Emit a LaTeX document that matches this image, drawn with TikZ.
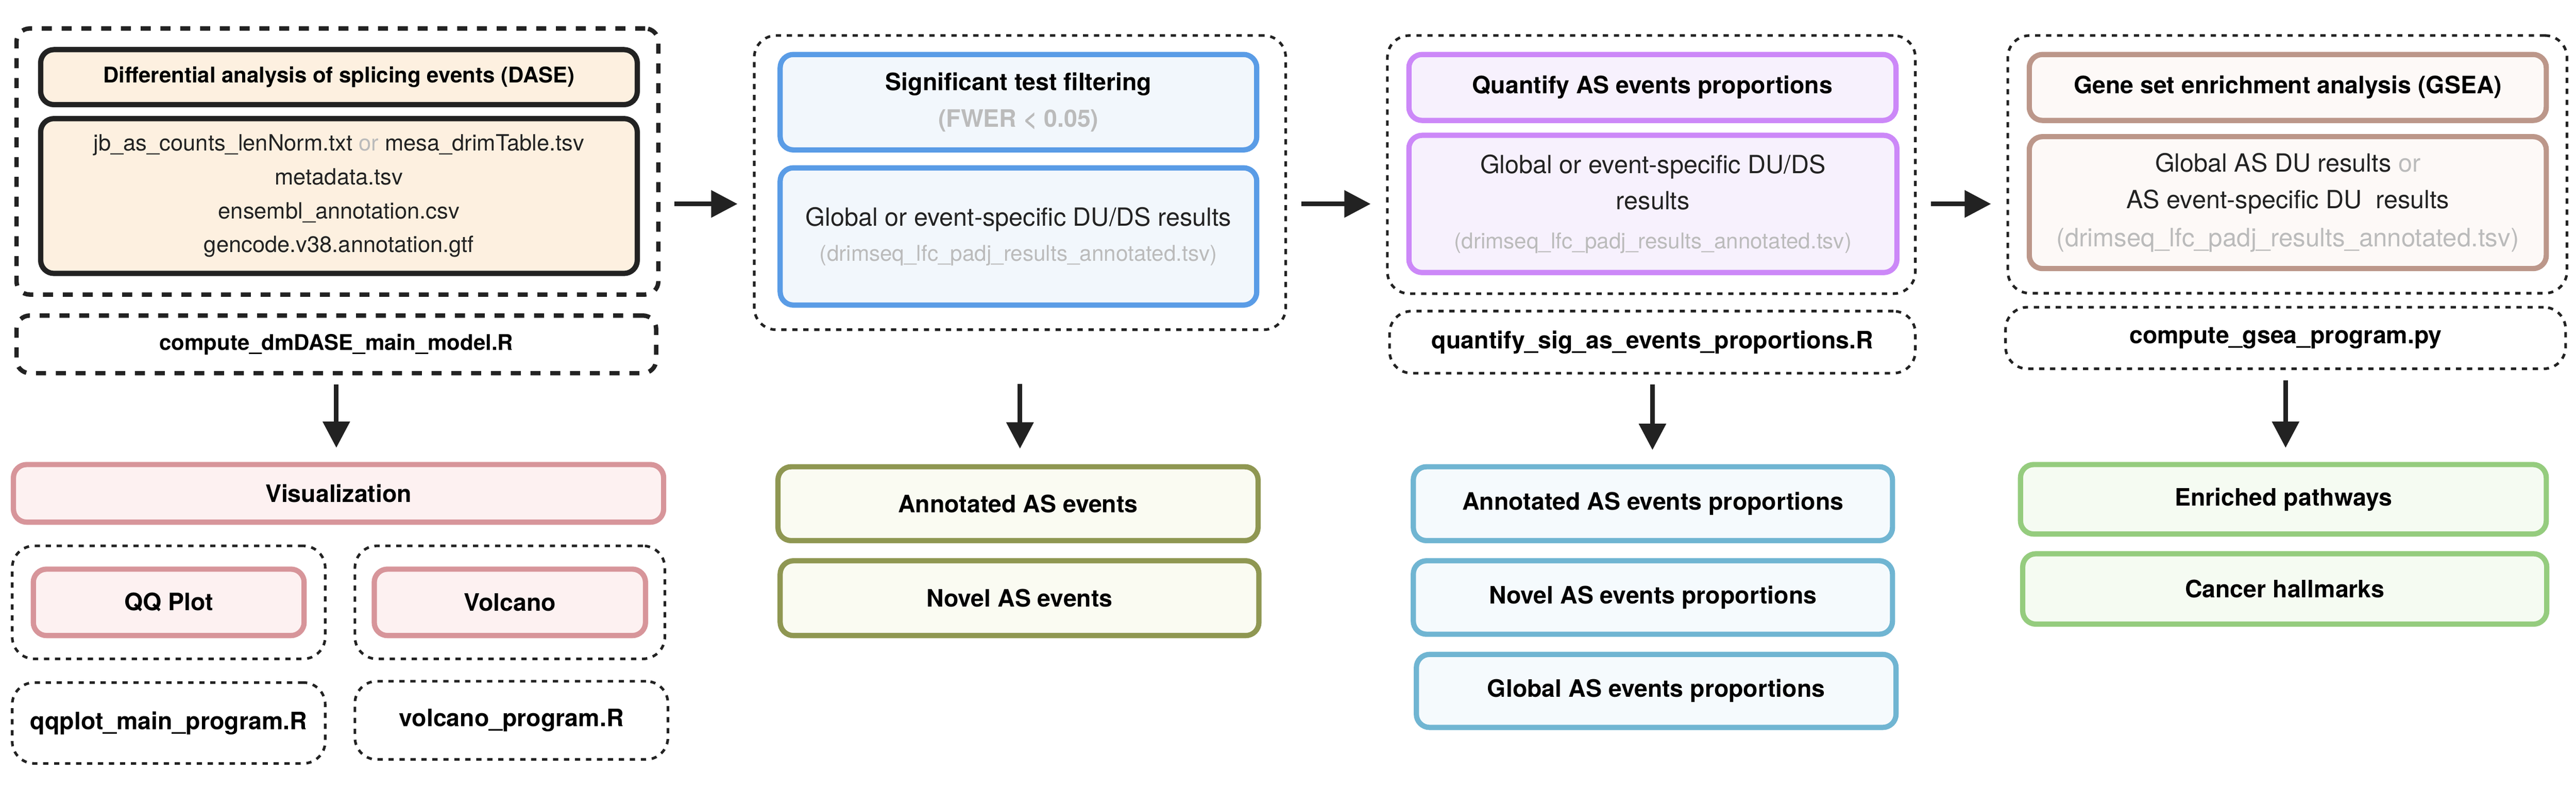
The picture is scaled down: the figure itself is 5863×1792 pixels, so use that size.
\documentclass[tikz,border=0pt]{standalone}
\usepackage{fontspec}
\setmainfont{TeX Gyre Heros}
\usetikzlibrary{arrows.meta,positioning}
\definecolor{dark}{HTML}{222222}
\definecolor{greytxt}{HTML}{BBBBBB}
\definecolor{dasefill}{HTML}{FDF0E0}
\definecolor{visline}{HTML}{D7959A}
\definecolor{visfill}{HTML}{FDF1F1}
\definecolor{sigline}{HTML}{5A9CE6}
\definecolor{sigfill}{HTML}{F2F7FC}
\definecolor{evline}{HTML}{8F9752}
\definecolor{evfill}{HTML}{FAFBF2}
\definecolor{quantline}{HTML}{CC88F8}
\definecolor{quantfill}{HTML}{F7F1FD}
\definecolor{propline}{HTML}{70B5D2}
\definecolor{propfill}{HTML}{F5FAFD}
\definecolor{gsealine}{HTML}{BC978A}
\definecolor{gseafill}{HTML}{FDF9F7}
\definecolor{pathline}{HTML}{95CC7E}
\definecolor{pathfill}{HTML}{F5FBF2}

\begin{document}
\begin{tikzpicture}[x=0.01cm,y=-0.01cm,
  frame/.style={draw=dark,line width=1.7pt,dash pattern=on 3.4pt off 3.7pt,
    rounded corners=0.5cm,outer sep=0,inner sep=0,align=center,text=black,
    font=\bfseries\fontsize{15.5}{18}\selectfont},
  thickframe/.style={frame,line width=2.85pt,dash pattern=on 6.5pt off 6.3pt,
    rounded corners=0.3cm},
  card/.style={draw,line width=3.4pt,rounded corners=0.3cm,outer sep=0,
    inner sep=0,align=center,text=black,font=\bfseries\fontsize{15.5}{18}\selectfont},
  plain/.style={text=dark,font=\fontsize{16.2}{23.6}\selectfont},
  flow/.style={draw=dark,line width=3.1pt,-{Triangle[length=0.6cm,width=0.6cm]}}]
\useasboundingbox (0,0) rectangle (5863,1792);

% differential analysis
\node[thickframe,minimum width=14.6cm,minimum height=6.05cm] (daseFrame) at (768,367.5) {};
\node[card,draw=dark,fill=dasefill,minimum width=13.57cm,minimum height=1.25cm,
  font=\bfseries\fontsize{14}{17}\selectfont] (daseTitle) at (771.5,175.5)
  {Differential analysis of splicing events (DASE)};
\node[card,draw=dark,fill=dasefill,minimum width=13.57cm,minimum height=3.52cm,
  plain,font=\fontsize{14.5}{21.9}\selectfont] (daseInput) at (771.5,446)
  {jb\_as\_counts\_lenNorm.txt \textcolor{greytxt}{or} mesa\_drimTable.tsv\\
   metadata.tsv\\ ensembl\_annotation.csv\\ gencode.v38.annotation.gtf};
\node[thickframe,minimum width=14.55cm,minimum height=1.31cm,
  font=\bfseries\fontsize{14}{17}\selectfont] (daseScript) at (765.5,783.5)
  {compute\_dmDASE\_main\_model.R};

% visualization
\node[card,draw=visline,fill=visfill,minimum width=14.79cm,minimum height=1.31cm]
  (visTitle) at (770.5,1122.5) {Visualization};
\node[frame,minimum width=7.12cm,minimum height=2.57cm] (qqFrame) at (384,1370.5) {};
\node[card,draw=visline,fill=visfill,minimum width=6.16cm,minimum height=1.51cm]
  (qqBox) at (384,1370.5) {QQ Plot};
\node[frame,minimum width=7.05cm,minimum height=2.57cm] (volFrame) at (1160.5,1370.5) {};
\node[card,draw=visline,fill=visfill,minimum width=6.17cm,minimum height=1.51cm]
  (volBox) at (1160.5,1370.5) {Volcano};
\node[frame,minimum width=7.12cm,minimum height=1.84cm] (qqScript) at (384,1645)
  {qqplot\_main\_program.R};
\node[frame,minimum width=7.12cm,minimum height=1.78cm] (volScript) at (1164,1639)
  {volcano\_program.R};

% significance filtering
\node[frame,minimum width=12.09cm,minimum height=6.69cm] (sigFrame) at (2321.5,415.5) {};
\node[card,draw=sigline,fill=sigfill,minimum width=10.84cm,minimum height=2.17cm,
  font=\bfseries\fontsize{15.5}{23.9}\selectfont] (sigTitle) at (2318,232.5)
  {Significant test filtering\\ \textcolor{greytxt}{(FWER < 0.05)}};
\node[card,draw=sigline,fill=sigfill,minimum width=10.84cm,minimum height=3.12cm,
  plain,font=\fontsize{16.2}{22.8}\selectfont] (sigResult) at (2318,538)
  {Global or event-specific DU/DS results\\
   {\fontsize{14.1}{16}\selectfont\color{greytxt}(drimseq\_lfc\_padj\_results\_annotated.tsv)}};
\node[card,draw=evline,fill=evfill,minimum width=10.92cm,minimum height=1.68cm]
  (annEv) at (2317,1146) {Annotated AS events};
\node[card,draw=evline,fill=evfill,minimum width=10.89cm,minimum height=1.7cm]
  (novEv) at (2320.5,1361) {Novel AS events};

% proportions
\node[frame,minimum width=12.01cm,minimum height=5.87cm] (quantFrame) at (3758.5,374.5) {};
\node[card,draw=quantline,fill=quantfill,minimum width=11.08cm,minimum height=1.5cm]
  (quantTitle) at (3761,199) {Quantify AS events proportions};
\node[card,draw=quantline,fill=quantfill,minimum width=11.1cm,minimum height=3.12cm,
  plain] (quantInput) at (3762,464)
  {Global or event-specific DU/DS\\ results\\[1.5pt]
   {\fontsize{14.1}{16}\selectfont\color{greytxt}(drimseq\_lfc\_padj\_results\_annotated.tsv)}};
\node[frame,minimum width=11.96cm,minimum height=1.41cm] (quantScript) at (3761,778.5)
  {quantify\_sig\_as\_events\_proportions.R};
\node[card,draw=propline,fill=propfill,minimum width=10.9cm,minimum height=1.68cm]
  (annProp) at (3762,1146) {Annotated AS events proportions};
\node[card,draw=propline,fill=propfill,minimum width=10.9cm,minimum height=1.67cm]
  (novProp) at (3762,1359.5) {Novel AS events proportions};
\node[card,draw=propline,fill=propfill,minimum width=10.91cm,minimum height=1.66cm]
  (globProp) at (3769.5,1572) {Global AS events proportions};

% enrichment
\node[frame,minimum width=12.72cm,minimum height=5.86cm] (gseaFrame) at (5206,374) {};
\node[card,draw=gsealine,fill=gseafill,minimum width=11.76cm,minimum height=1.5cm]
  (gseaTitle) at (5207,199) {Gene set enrichment analysis (GSEA)};
\node[card,draw=gsealine,fill=gseafill,minimum width=11.76cm,minimum height=3cm,
  plain] (gseaInput) at (5207,461)
  {Global AS DU results \textcolor{greytxt}{or}\\ AS event-specific DU\ \ results\\[1pt]
   {\fontsize{16.4}{18}\selectfont\color{greytxt}(drimseq\_lfc\_padj\_results\_annotated.tsv)}};
\node[frame,minimum width=12.74cm,minimum height=1.4cm] (gseaScript) at (5202,769)
  {compute\_gsea\_program.py};
\node[card,draw=pathline,fill=pathfill,minimum width=11.96cm,minimum height=1.58cm]
  (enrPath) at (5197,1136) {Enriched pathways};
\node[card,draw=pathline,fill=pathfill,minimum width=11.92cm,minimum height=1.6cm]
  (cancHall) at (5200,1340) {Cancer hallmarks};

% arrows
\foreach \a/\b in {daseFrame/sigFrame,sigFrame/quantFrame,quantFrame/gseaFrame}
  \draw[flow,shorten <=0.36cm,shorten >=0.38cm] (\a.east |- quantInput.center) -- (\b.west |- quantInput.center);
\foreach \a/\b in {daseScript/visTitle,quantScript/annProp,gseaScript/enrPath}
  \draw[flow,shorten <=0.26cm,shorten >=0.38cm] (\a.south) -- (\a.south |- \b.north);
\draw[flow,shorten <=1.23cm,shorten >=0.41cm] (sigFrame.south) -- (sigFrame.south |- annEv.north);
\end{tikzpicture}
\end{document}
